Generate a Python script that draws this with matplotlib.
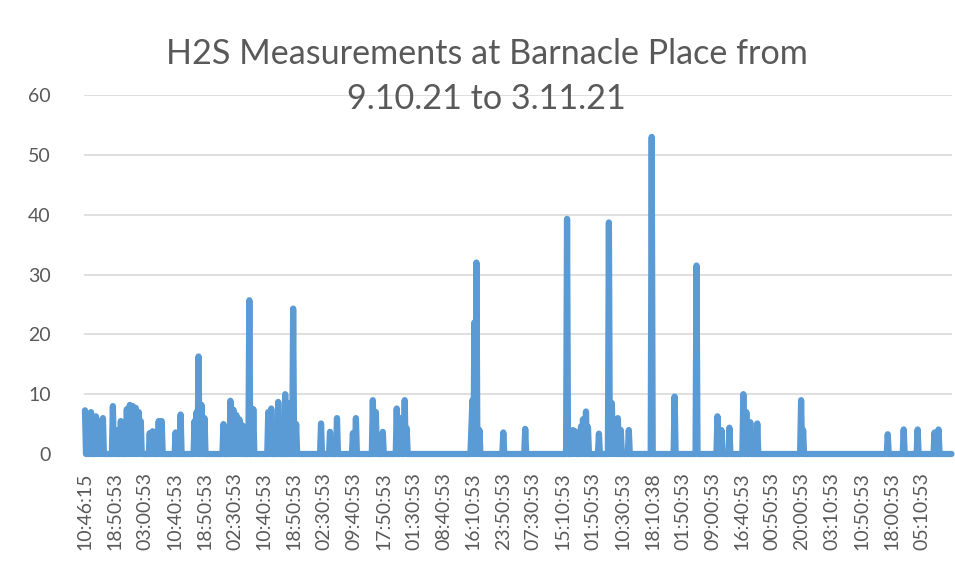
import numpy as np
import matplotlib
matplotlib.use("Agg")
import matplotlib.pyplot as plt

# ---- data -------------------------------------------------------------
n_points = 871          # number of readings (category positions)
label_step = 30         # one label every 30 readings

tick_labels = ["10:46:15", "18:50:53", "03:00:53", "10:40:53", "18:50:53",
               "02:30:53", "10:40:53", "18:50:53", "02:30:53", "09:40:53",
               "17:50:53", "01:30:53", "08:40:53", "16:10:53", "23:50:53",
               "07:30:53", "15:10:53", "01:50:53", "10:30:53", "18:10:38",
               "01:50:53", "09:00:53", "16:40:53", "00:50:53", "20:00:53",
               "03:10:53", "10:50:53", "18:00:53", "05:10:53"]

# readings that are not zero: position in the series and H2S value
spike_idx = [0, 3, 6, 11, 14, 18, 28, 31, 36, 42, 45, 48, 51, 54, 56,
             65, 68, 74, 77, 91, 96, 110, 112, 114, 117, 120,
             139, 146, 149, 152, 155, 158, 165, 169,
             184, 187, 194, 201, 205, 209, 212,
             237, 246, 253, 269, 272, 289, 292, 299,
             313, 317, 321, 323,
             388, 389, 391, 393, 396, 420, 442,
             484, 490, 492, 498, 500, 503, 505, 516,
             526, 529, 532, 535, 538, 546, 569, 592,
             614, 635, 639, 647, 661, 664, 668, 675,
             719, 721, 806, 822, 836, 853, 857]
spike_val = [7.3, 5.0, 7.0, 6.3, 5.5, 6.0, 8.0, 4.0, 5.5, 7.5, 8.2, 8.0, 7.7, 7.0, 5.5,
             3.5, 3.8, 5.5, 5.5, 3.6, 6.6, 5.5, 7.0, 16.3, 8.2, 6.0,
             5.0, 8.9, 7.4, 6.5, 5.8, 4.8, 25.7, 7.5,
             7.0, 7.6, 8.7, 10.0, 8.5, 24.3, 5.0,
             5.1, 3.7, 6.0, 3.5, 6.0, 9.0, 7.0, 3.7,
             7.6, 6.0, 9.0, 4.3,
             4.3, 9.0, 22.0, 32.0, 4.0, 3.6, 4.2,
             39.3, 4.0, 3.8, 4.6, 5.8, 7.1, 4.5, 3.4,
             38.7, 8.5, 5.0, 6.0, 4.0, 4.0, 53.0, 9.6,
             31.5, 6.3, 4.0, 4.4, 10.0, 7.0, 5.3, 5.1,
             9.0, 4.0, 3.3, 4.1, 4.1, 3.6, 4.1]

series = np.zeros(n_points)
series[spike_idx] = spike_val

title_line1 = "H2S Measurements at Barnacle Place from"
title_line2 = "9.10.21 to 3.11.21"

# ---- figure -----------------------------------------------------------
W, H = 955, 579
fig = plt.figure(figsize=(W / 100, H / 100), dpi=100)
fig.patch.set_facecolor("white")

left_px, right_px, top_px, bot_px = 84, 952, 95, 454
ax = fig.add_axes([left_px / W, 1 - bot_px / H,
                   (right_px - left_px) / W, (bot_px - top_px) / H])

x = np.arange(n_points)
ax.plot(x, series, color="#5B9BD5", lw=4.5, solid_joinstyle="round",
        solid_capstyle="round", clip_on=False, zorder=3)

ax.set_xlim(-1, 870.5)
ax.set_ylim(0, 60)
ax.set_yticks(np.arange(0, 61, 10))
ax.grid(axis="y", color="#D9D9D9", lw=1.2, zorder=0)
ax.set_axisbelow(True)
for s in ax.spines.values():
    s.set_visible(False)

tick_pos = np.arange(len(tick_labels)) * label_step
ax.set_xticks(tick_pos)
ax.set_xticklabels(tick_labels, rotation=90, fontsize=14, color="#595959",
                   family="Lato")
ax.tick_params(axis="x", length=0, pad=13)
ax.tick_params(axis="y", length=0, pad=24, labelsize=14, labelcolor="#595959")
for t in ax.get_yticklabels():
    t.set_family("Lato")

fig.text(0.5096, 1 - 64 / H, title_line1,
         ha="center", va="baseline", fontsize=24.6, color="#595959",
         family="Lato")
fig.text(0.5096, 1 - 109 / H, title_line2,
         ha="center", va="baseline", fontsize=24.6, color="#595959",
         family="Lato")

fig.savefig("out.png", dpi=100, facecolor="white")
